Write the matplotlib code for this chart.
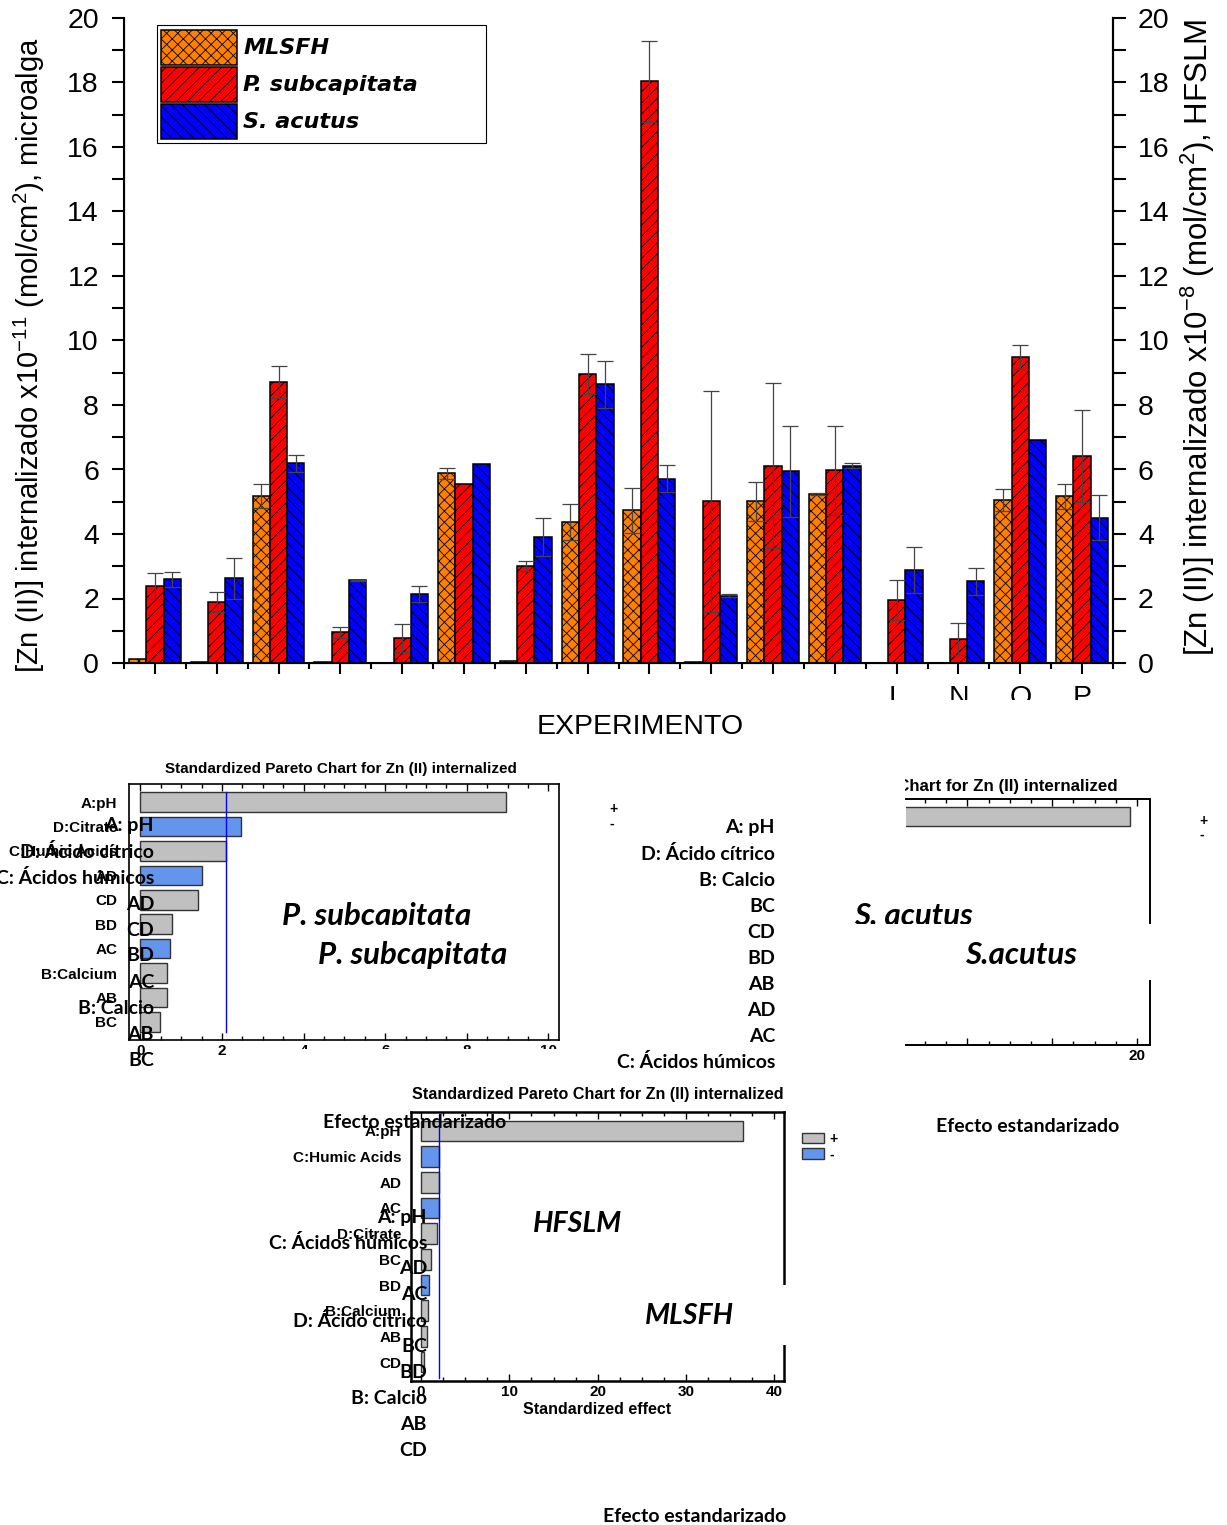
import numpy as np
import matplotlib
matplotlib.use('Agg')
import matplotlib.pyplot as plt
from matplotlib.patches import Rectangle, Patch
from matplotlib.ticker import MultipleLocator, FixedLocator

W, H = 1227, 1525

# --- bar chart data (experiments A..P, only L N O P labels visible) ---
experiments = list(range(1, 17))
exp_labels = [''] * 12 + ['L', 'N', 'O', 'P']

mlsfh = [0.11, 0.03, 5.17, 0.02, 0.01, 5.88, 0.06, 4.37, 4.73, 0.03, 5.01, 5.24, 0.01, 0.0, 5.05, 5.17]
mlsfh_err = [0, 0, 0.37, 0, 0, 0.18, 0, 0.55, 0.71, 0, 0.60, 0.02, 0, 0, 0.33, 0.38]
psub = [2.38, 1.89, 8.71, 0.95, 0.78, 5.55, 3.00, 8.95, 18.04, 5.01, 6.12, 5.98, 1.95, 0.74, 9.49, 6.41]
psub_err = [0.40, 0.30, 0.50, 0.17, 0.43, 0, 0.15, 0.62, 1.25, 3.43, 2.56, 1.38, 0.62, 0.50, 0.37, 1.42]
sacu = [2.59, 2.63, 6.19, 2.56, 2.14, 6.16, 3.91, 8.64, 5.72, 2.09, 5.94, 6.12, 2.88, 2.53, 6.93, 4.51]
sacu_err = [0.24, 0.64, 0.27, 0.02, 0.24, 0, 0.60, 0.73, 0.43, 0.05, 1.42, 0.07, 0.71, 0.42, 0, 0.69]

# --- Pareto charts ---
p1_terms = ['A:pH', 'D:Citrate', 'C:Humic Acids', 'AD', 'CD', 'BD', 'AC', 'B:Calcium', 'AB', 'BC']
p1_effect = [8.97, 2.47, 2.09, 1.51, 1.40, 0.77, 0.73, 0.64, 0.64, 0.49]
p1_sign = [1, -1, 1, -1, 1, 1, -1, 1, 1, 1]
p1_limit = 2.09

sa_terms = ['A:pH']
sa_effect = [19.65]
sa_sign = [1]

hf_terms = ['A:pH', 'C:Humic Acids', 'AD', 'AC', 'D:Citrate', 'BC', 'BD', 'B:Calcium', 'AB', 'CD']
hf_effect = [36.5, 2.0, 2.0, 2.0, 1.82, 1.08, 0.95, 0.78, 0.65, 0.35]
hf_sign = [1, -1, 1, -1, 1, 1, -1, 1, 1, 1]
hf_limit = 2.08

# spanish labels pasted on top
es_p1 = ['A: pH', 'D: Ácido cítrico', 'C: Ácidos húmicos', 'AD', 'CD', 'BD', 'AC', 'B: Calcio', 'AB', 'BC']
es_sa = ['A: pH', 'D: Ácido cítrico', 'B: Calcio', 'BC', 'CD', 'BD', 'AB', 'AD', 'AC', 'C: Ácidos húmicos']
es_hf = ['A: pH', 'C: Ácidos húmicos', 'AD', 'AC', 'D: Ácido cítrico', 'BC', 'BD', 'B: Calcio', 'AB', 'CD']

plt.rcParams['font.family'] = ['Liberation Sans', 'DejaVu Sans']
plt.rcParams['mathtext.fontset'] = 'custom'
plt.rcParams['mathtext.rm'] = 'Liberation Sans'
plt.rcParams['mathtext.it'] = 'Liberation Sans:italic'
plt.rcParams['hatch.linewidth'] = 0.6

fig = plt.figure(figsize=(W / 100, H / 100), dpi=100)


def box(x0, y0, x1, y1):
    return [x0 / W, 1 - y1 / H, (x1 - x0) / W, (y1 - y0) / H]


def ftext(x, y, s, **kw):
    return fig.text(x / W, 1 - y / H, s, **kw)


def white(x0, y0, x1, y1, z=5):
    fig.add_artist(Rectangle((x0 / W, 1 - y1 / H), (x1 - x0) / W, (y1 - y0) / H,
                             transform=fig.transFigure, facecolor='white',
                             edgecolor='none', zorder=z))


# ---------------- top bar chart ----------------
ax = fig.add_axes(box(124, 18, 1113, 663))
x = np.array(experiments, dtype=float)
w = 0.28
series = [
    (mlsfh, mlsfh_err, '#FF8000', 'xxx', 'MLSFH'),
    (psub, psub_err, '#FF0000', '///', 'P. subcapitata'),
    (sacu, sacu_err, '#0000FF', '\\\\\\', 'S. acutus'),
]
for i, (vals, errs, col, hatch, lab) in enumerate(series):
    xs = x + (i - 1) * w
    vals = np.array(vals)
    ax.bar(xs, vals, w, color=col, edgecolor='black', hatch=hatch,
           linewidth=1.1, label=lab, zorder=2)
    e = np.array(errs)
    m = e > 0
    ax.errorbar(xs[m], vals[m], yerr=e[m], fmt='none', ecolor='#444444',
                elinewidth=0.9, capsize=6, capthick=0.9, zorder=3)

ax.set_xlim(0.5, 16.5)
ax.set_ylim(0, 20)
ax.set_xticks(x, exp_labels)
ax.xaxis.set_minor_locator(FixedLocator(np.arange(0.5, 17, 1)))
ax.yaxis.set_major_locator(MultipleLocator(2))
ax.yaxis.set_minor_locator(MultipleLocator(1))
ax.spines['top'].set_visible(False)
for s in ['left', 'right', 'bottom']:
    ax.spines[s].set_linewidth(1.5)
ax.tick_params(axis='y', which='both', direction='out', length=9, width=1.5,
               labelsize=20.5, pad=9)
ax.tick_params(axis='x', which='major', direction='out', length=8, width=1.5,
               labelsize=20.5, pad=8)
ax.tick_params(axis='x', which='minor', direction='out', length=4, width=1.5)

ax2 = ax.twinx()
ax2.set_ylim(0, 20)
ax2.yaxis.set_major_locator(MultipleLocator(2))
ax2.yaxis.set_minor_locator(MultipleLocator(1))
ax2.spines['top'].set_visible(False)
ax2.spines['right'].set_linewidth(1.5)
ax2.tick_params(axis='y', which='both', direction='out', length=9, width=1.5,
                labelsize=20.5, pad=9)

leg = ax.legend(loc='upper left', bbox_to_anchor=(0.033, 0.0, 0.333, 0.989),
                mode='expand', borderaxespad=0,
                prop=dict(family='DejaVu Sans', weight='bold', style='italic', size=16),
                handlelength=3.4, handleheight=2.05, labelspacing=0.09,
                handletextpad=0.3, borderpad=0.2, fancybox=False,
                edgecolor='black', framealpha=1)
leg.get_frame().set_linewidth(0.8)

ftext(29, 355, r'[Zn (II)] internalizado x10$^{-11}$ (mol/cm$^{2}$), microalga',
      rotation=90, ha='center', va='center', fontsize=21)
ftext(1198, 337, r'[Zn (II)] internalizado x10$^{-8}$ (mol/cm$^{2}$), HFSLM',
      rotation=90, ha='center', va='center', fontsize=22.5)
ftext(640, 727, 'EXPERIMENTO', ha='center', va='center', fontsize=20.5)
white(860, 700, 1115, 713)


# ---------------- Pareto helper ----------------
def pareto(px, terms, effect, sign, xlim, major, minor, pad, lw):
    a = fig.add_axes(box(*px))
    pos = np.arange(len(terms))
    cols = ['#C0C0C0' if s > 0 else '#6495ED' for s in sign]
    a.barh(pos, effect, height=0.8, color=cols, edgecolor='#333333', linewidth=1.0)
    a.set_ylim(9 + 0.74, -0.74)
    a.set_xlim(*xlim)
    a.set_yticks(pos, terms)
    a.xaxis.set_major_locator(MultipleLocator(major))
    a.xaxis.set_minor_locator(MultipleLocator(minor))
    a.tick_params(axis='y', length=0, pad=pad, labelsize=11)
    a.tick_params(axis='x', which='both', direction='in', top=True, bottom=True,
                  width=1.0, labelsize=11, pad=3)
    a.tick_params(axis='x', which='major', length=5)
    a.tick_params(axis='x', which='minor', length=3)
    for s in a.spines.values():
        s.set_linewidth(lw)
    for t in a.get_xticklabels() + a.get_yticklabels():
        t.set_fontweight('bold')
    return a


# P. subcapitata
pa = pareto((129, 784, 559, 1040), p1_terms, p1_effect, p1_sign, (-0.28, 10.26), 2, 0.5, 8.5, 1.2)
pa.axvline(p1_limit, ymin=0.03, ymax=0.97, color='#0000FF', lw=1)
ftext(341, 769, 'Standardized Pareto Chart for Zn (II) internalized', ha='center',
      va='center', fontsize=11, fontweight='bold')
white(262, 1049, 566, 1066)

# S. acutus (mostly covered)
sa = pareto((906, 799, 1150, 1045), sa_terms, sa_effect, sa_sign, (9.11, 20.61), 4, 1, 8, 1.4)
sa.set_yticks([])
sa.set_xticks([12, 16, 20], ['', '', '20'])
for t in sa.get_xticklabels():
    t.set_fontweight('bold')
sa.spines['left'].set_visible(False)
ftext(1118, 786, 'Standardized Pareto Chart for Zn (II) internalized', ha='right',
      va='center', fontsize=12.2, fontweight='bold')
white(590, 770, 905, 800)

# HFSLM
hf = pareto((411, 1112, 784, 1381), hf_terms, hf_effect, hf_sign, (-1.14, 41.1), 10, 2.5, 7, 1.8)
hf.axvline(hf_limit, ymin=0.01, ymax=0.99, color='#0000FF', lw=1)
hf.set_xlabel('Standardized effect', fontsize=11.5, fontweight='bold', labelpad=2)
ftext(598, 1095, 'Standardized Pareto Chart for Zn (II) internalized', ha='center',
      va='center', fontsize=11.6, fontweight='bold')
fig.legend(handles=[Patch(facecolor='#C0C0C0', edgecolor='#333333'),
                    Patch(facecolor='#6495ED', edgecolor='#333333')],
           labels=['+', '-'], loc='upper left', bbox_to_anchor=(795 / W, 1 - 1125 / H),
           frameon=False, handlelength=1.6, handleheight=0.8, labelspacing=0.1,
           handletextpad=0.4, borderpad=0, prop=dict(weight='bold', size=10))

# legend remnants
for xx, yy, s in [(613, 809, '+'), (612, 824, '-'), (1204, 821, '+'), (1202, 835, '-')]:
    ftext(xx, yy, s, ha='center', va='center', fontsize=10, fontweight='bold')

# clipped species names and white masks
es_font = ['Lato', 'DejaVu Sans']
ftext(377, 916, 'P. subcapitata', ha='center', va='center', fontsize=22.5,
      family=es_font, fontweight='bold', style='italic', zorder=4)
white(268, 925, 530, 941)
ftext(913, 916, 'S. acutus', ha='center', va='center', fontsize=22.5,
      family=es_font, fontweight='bold', style='italic', zorder=4)
white(840, 924, 1160, 980)
white(630, 1285, 795, 1345)

ftext(413, 955, 'P. subcapitata', ha='center', va='center', fontsize=22.5,
      family=es_font, fontweight='bold', style='italic', zorder=6)
ftext(1021, 955, 'S.acutus', ha='center', va='center', fontsize=22.5,
      family=es_font, fontweight='bold', style='italic', zorder=6)
ftext(577, 1224, 'HFSLM', ha='center', va='center', fontsize=20.5,
      family=es_font, fontweight='bold', style='italic', zorder=6)
ftext(689, 1316, 'MLSFH', ha='center', va='center', fontsize=20.5,
      family=es_font, fontweight='bold', style='italic', zorder=6)

for i, s in enumerate(es_p1):
    ftext(154, 826 + 26 * i, s, ha='right', va='center', fontsize=14,
          family=es_font, fontweight='bold', zorder=6)
for i, s in enumerate(es_sa):
    ftext(775, 828 + 26 * i, s, ha='right', va='center', fontsize=14,
          family=es_font, fontweight='bold', zorder=6)
for i, s in enumerate(es_hf):
    ftext(427, 1217 + 26 * i, s, ha='right', va='center', fontsize=14,
          family=es_font, fontweight='bold', zorder=6)

ftext(415, 1123, 'Efecto estandarizado', ha='center', va='center', fontsize=14,
      family=es_font, fontweight='bold', zorder=6)
ftext(1028, 1127, 'Efecto estandarizado', ha='center', va='center', fontsize=14,
      family=es_font, fontweight='bold', zorder=6)
ftext(695, 1516, 'Efecto estandarizado', ha='center', va='center', fontsize=14,
      family=es_font, fontweight='bold', zorder=6)

fig.savefig('out.png', dpi=100, facecolor='white')
